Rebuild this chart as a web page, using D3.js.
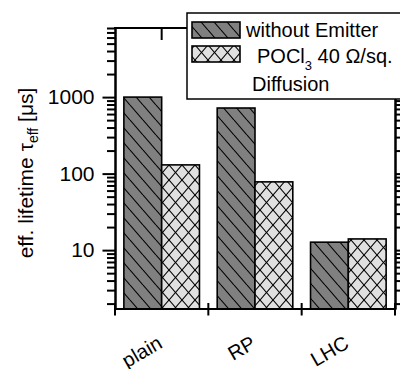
<!DOCTYPE html>
<html>
<head>
<meta charset="utf-8">
<script src="https://cdn.jsdelivr.net/npm/d3@7/dist/d3.min.js"></script>
<style>
  html, body { margin: 0; padding: 0; background: #fff; }
  svg { display: block; font-family: "Liberation Sans", Arial, sans-serif; }
</style>
</head>
<body>
<svg id="chart" width="400" height="369"></svg>
<script>
// ---- data ----
const categories = ["plain", "RP", "LHC"];
const seriesKeys = ["without", "pocl3"];
const withoutEmitter = [1000, 720, 12.7];
const pocl3Diffusion = [130, 78, 14];
const majorTicks = [10, 100, 1000];

const svg = d3.select("#chart");
const plotLeft = 115, plotRight = 395, plotTop = 28, plotBottom = 309;

// patterns
const defs = svg.append("defs");
const pw = 13, ph = 15;
const pHatch = defs.append("pattern").attr("id", "hatch")
  .attr("patternUnits", "userSpaceOnUse").attr("width", pw).attr("height", ph);
pHatch.append("rect").attr("width", pw).attr("height", ph).attr("fill", "#808080");
[[0,0,pw,ph],[-pw,0,0,ph],[pw,0,2*pw,ph]].forEach(l =>
  pHatch.append("line").attr("x1", l[0]).attr("y1", l[1]).attr("x2", l[2]).attr("y2", l[3])
    .attr("stroke", "#000").attr("stroke-width", 1.1));
const pCross = defs.append("pattern").attr("id", "cross")
  .attr("patternUnits", "userSpaceOnUse").attr("width", pw).attr("height", ph);
pCross.append("rect").attr("width", pw).attr("height", ph).attr("fill", "#e0e0e0");
[[0,0,pw,ph],[pw,0,0,ph]].forEach(l =>
  pCross.append("line").attr("x1", l[0]).attr("y1", l[1]).attr("x2", l[2]).attr("y2", l[3])
    .attr("stroke", "#000").attr("stroke-width", 1.1));
const fills = { without: "url(#hatch)", pocl3: "url(#cross)" };

// scales
const x = d3.scaleBand().domain(categories).range([plotLeft, plotRight])
  .paddingInner(0.19).paddingOuter(0.095);
const xs = d3.scaleBand().domain(seriesKeys).range([0, x.bandwidth()]);
const y = d3.scaleLog().domain([1.7, 8000]).range([plotBottom, plotTop]);

const rows = categories.map((c, i) => ({ cat: c, without: withoutEmitter[i], pocl3: pocl3Diffusion[i] }));

// bars
const g = svg.append("g");
rows.forEach(r => {
  seriesKeys.forEach(k => {
    g.append("rect")
      .attr("x", x(r.cat) + xs(k))
      .attr("y", y(r[k]))
      .attr("width", xs.bandwidth())
      .attr("height", plotBottom - y(r[k]))
      .attr("fill", fills[k])
      .attr("stroke", "#000").attr("stroke-width", 1.6);
  });
});

// axes
const allTicks = y.ticks();
const minorTicks = allTicks.filter(t => !majorTicks.includes(t));

function styleAxis(sel) {
  sel.selectAll("path").attr("stroke", "#000").attr("stroke-width", 2);
  sel.selectAll("line").attr("stroke", "#000").attr("stroke-width", 2);
}
// left
svg.append("g").attr("transform", `translate(${plotLeft},0)`)
  .call(d3.axisLeft(y).tickValues(minorTicks).tickSize(8).tickSizeOuter(0).tickFormat(""))
  .call(styleAxis);
const la = svg.append("g").attr("transform", `translate(${plotLeft},0)`)
  .call(d3.axisLeft(y).tickValues(majorTicks).tickSize(12.5).tickSizeOuter(0)
    .tickPadding(8).tickFormat(d3.format("d")))
  .call(styleAxis);
la.selectAll("text").attr("font-size", 21).attr("fill", "#000")
  .attr("font-family", "Liberation Sans, Arial, sans-serif");
// right
svg.append("g").attr("transform", `translate(${plotRight},0)`)
  .call(d3.axisLeft(y).tickValues(minorTicks).tickSize(-6).tickSizeOuter(0).tickFormat(""))
  .call(styleAxis);
svg.append("g").attr("transform", `translate(${plotRight},0)`)
  .call(d3.axisLeft(y).tickValues(majorTicks).tickSize(-12).tickSizeOuter(0).tickFormat(""))
  .call(styleAxis);

// bottom axis line + boundary ticks
const bounds = categories.map(c => x(c) - (x.step() - x.bandwidth()) / 2).concat([plotRight]);
svg.append("line").attr("x1", plotLeft - 1).attr("x2", plotRight + 1).attr("y1", plotBottom).attr("y2", plotBottom)
  .attr("stroke", "#000").attr("stroke-width", 2);
svg.append("line").attr("x1", plotLeft - 1).attr("x2", plotRight + 1).attr("y1", plotTop).attr("y2", plotTop)
  .attr("stroke", "#000").attr("stroke-width", 2);
svg.selectAll(".bt").data(bounds).enter().append("line")
  .attr("x1", d => d).attr("x2", d => d).attr("y1", plotBottom - 6).attr("y2", plotBottom + 6.5)
  .attr("stroke", "#000").attr("stroke-width", 2);
// top tick
svg.append("line").attr("x1", x(categories[0]) + x.bandwidth() / 2).attr("x2", x(categories[0]) + x.bandwidth() / 2)
  .attr("y1", plotTop).attr("y2", plotTop + 12).attr("stroke", "#000").attr("stroke-width", 2);

// x labels
svg.selectAll(".xl").data(categories).enter().append("text")
  .attr("transform", d => `translate(${x(d) + x.bandwidth() / 2 + 2},${347}) rotate(-30)`)
  .attr("text-anchor", "end").attr("font-size", 20).attr("fill", "#000")
  .text(d => d);

// y title
const yt = svg.append("text").attr("transform", `translate(33,173) rotate(-90)`)
  .attr("text-anchor", "middle").attr("font-size", 21).attr("fill", "#000");
yt.append("tspan").text("eff. lifetime τ");
yt.append("tspan").attr("font-size", 14).attr("dy", 5).text("eff");
yt.append("tspan").attr("dy", -5).text(" [μs]");

// legend
const lg = svg.append("g");
lg.append("rect").attr("x", 187).attr("y", 13).attr("width", 230).attr("height", 86)
  .attr("fill", "#fff").attr("stroke", "#000").attr("stroke-width", 1.5);
lg.append("rect").attr("x", 192).attr("y", 22).attr("width", 48).attr("height", 16)
  .attr("fill", fills.without).attr("stroke", "#000").attr("stroke-width", 1.6);
lg.append("rect").attr("x", 192).attr("y", 46).attr("width", 48).attr("height", 16)
  .attr("fill", fills.pocl3).attr("stroke", "#000").attr("stroke-width", 1.6);
lg.append("text").attr("x", 246).attr("y", 37).attr("font-size", 20).attr("fill", "#000")
  .text("without Emitter");
const t2 = lg.append("text").attr("x", 257).attr("y", 63).attr("font-size", 20).attr("fill", "#000");
t2.append("tspan").text("POCl");
t2.append("tspan").attr("font-size", 13).attr("dy", 7).text("3");
t2.append("tspan").attr("dy", -7).text(" 40 Ω/sq.");
lg.append("text").attr("x", 252).attr("y", 91).attr("font-size", 20).attr("fill", "#000")
  .text("Diffusion");
</script>
</body>
</html>
